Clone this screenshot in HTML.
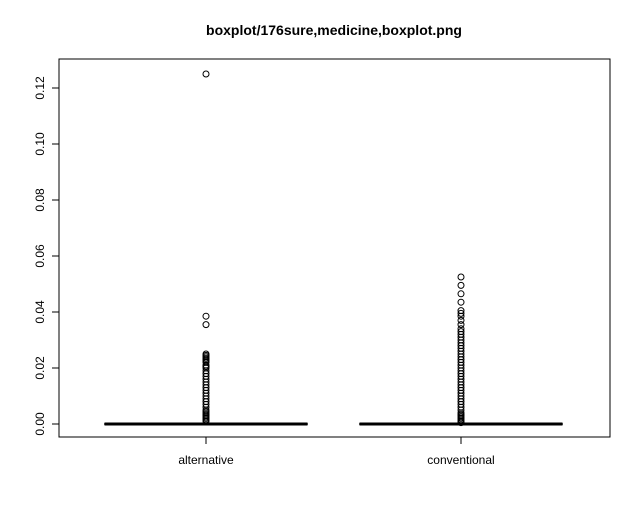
<!DOCTYPE html>
<html><head><meta charset="utf-8"><style>
body{margin:0;background:#fff;}
svg{display:block;font-family:"Liberation Sans",sans-serif;}
</style></head><body>
<svg id="chart" width="640" height="512" viewBox="0 0 640 512">
<text x="334" y="35" text-anchor="middle" font-size="14" font-weight="bold">boxplot/176sure,medicine,boxplot.png</text>
<rect x="59" y="59" width="551" height="378" fill="none" stroke="#000"/>
<g id="yaxis"></g>
<g id="xaxis"></g>
<g id="marks"></g>
</svg>
<script>
const categories = ["alternative", "conventional"];
const medians = [0, 0];
const q1s = [0, 0];
const q3s = [0, 0];
const yTicks = [0, 0.02, 0.04, 0.06, 0.08, 0.10, 0.12];
const yTickLabels = ["0.00", "0.02", "0.04", "0.06", "0.08", "0.10", "0.12"];
const outliersAlternative = [0.125, 0.0385, 0.0355, 0.025, 0.0245, 0.024, 0.0235, 0.023, 0.0225, 0.022, 0.021, 0.0205, 0.02, 0.019, 0.018, 0.017, 0.016, 0.015, 0.014, 0.013, 0.012, 0.011, 0.010, 0.009, 0.008, 0.007, 0.006, 0.005, 0.0045, 0.004, 0.0035, 0.003, 0.0025, 0.002, 0.0015, 0.001];
const outliersConventional = [0.0525, 0.0495, 0.0465, 0.0435, 0.0405, 0.0395, 0.0385, 0.037, 0.0355, 0.034, 0.033, 0.032, 0.031, 0.030, 0.029, 0.028, 0.027, 0.026, 0.025, 0.024, 0.023, 0.022, 0.021, 0.020, 0.019, 0.018, 0.017, 0.016, 0.015, 0.014, 0.013, 0.012, 0.011, 0.010, 0.009, 0.008, 0.007, 0.006, 0.005, 0.004, 0.0035, 0.003, 0.0025, 0.002, 0.0015, 0.001, 0.0005];
const outliers = [outliersAlternative, outliersConventional];

const NS = "http://www.w3.org/2000/svg";
function yScale(v){ return 424 - v * 2800; }
function xScale(i){ return 206 + i * 255; }
function mk(tag, attrs, parent){
  const e = document.createElementNS(NS, tag);
  for (const k in attrs) e.setAttribute(k, attrs[k]);
  parent.appendChild(e);
  return e;
}
const ya = document.getElementById("yaxis");
const xa = document.getElementById("xaxis");
const marks = document.getElementById("marks");
mk("line", {x1:59, x2:59, y1:yScale(0), y2:yScale(0.12), stroke:"#000"}, ya);
yTicks.forEach((t, i) => {
  const l = mk("line", {x1:52, x2:59, y1:yScale(t), y2:yScale(t), stroke:"#000"}, ya);
  
  
  const tx = mk("text", {x:0, y:0, "font-size":12, "text-anchor":"middle", transform:"translate(44," + yScale(t) + ") rotate(-90)"}, ya);
  tx.textContent = yTickLabels[i];
  
  
});
mk("line", {x1:xScale(0), x2:xScale(categories.length - 1), y1:437, y2:437, stroke:"#000"}, xa);
categories.forEach((c, i) => {
  const x = xScale(i);
  const tk = mk("line", {x1:x, x2:x, y1:437, y2:444, stroke:"#000"}, xa);
  
  
  const tx = mk("text", {x:x, y:464, "font-size":12, "text-anchor":"middle"}, xa);
  tx.textContent = c;
  
  
  const hw = 101.5;
  const box = mk("rect", {x:x - hw, y:yScale(q3s[i]), width:2*hw, height:Math.max(0.01, yScale(q1s[i]) - yScale(q3s[i])), fill:"none", stroke:"#000"}, marks);
  
  
  const med = mk("line", {x1:x - hw, x2:x + hw, y1:yScale(medians[i]), y2:yScale(medians[i]), stroke:"#000", "stroke-width":3}, marks);
  
  
  outliers[i].forEach(v => {
    const p = mk("circle", {cx:x, cy:yScale(v), r:3, fill:"none", stroke:"#000", "stroke-width":1}, marks);
    
    
  });
});
</script>
</body></html>
